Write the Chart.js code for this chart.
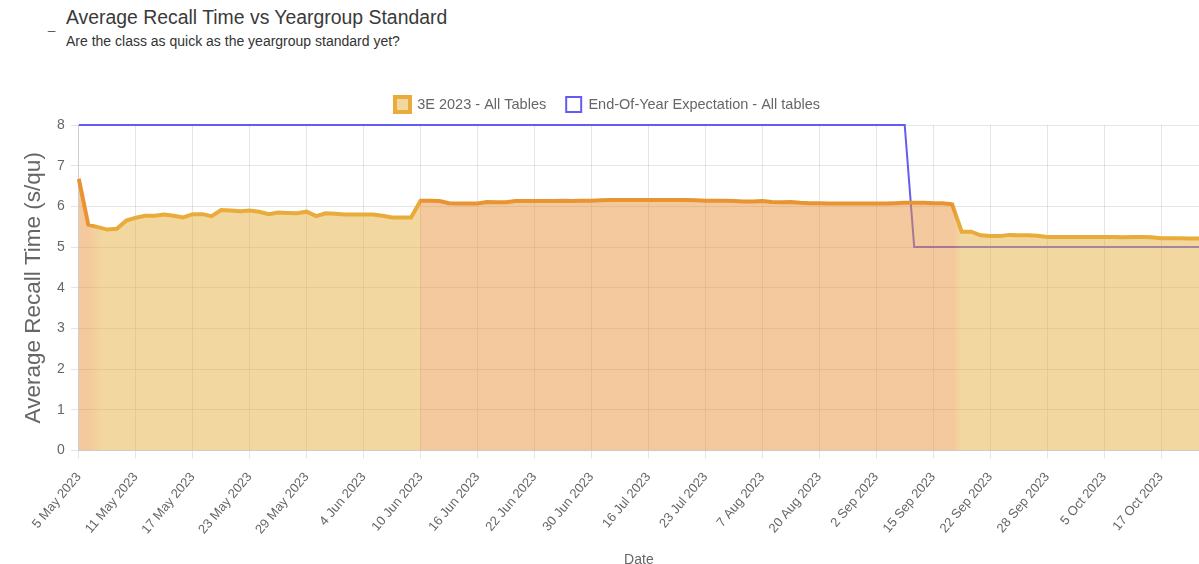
<!DOCTYPE html>
<html>
<head>
<meta charset="utf-8">
<script src="https://cdn.jsdelivr.net/npm/chart.js@4"></script>
<style>
  body { margin: 0; background: #fff; width: 1199px; height: 564px; overflow: hidden; position: relative; }
  .dash { position: absolute; left: 48px; top: 17px; font: 13px Arial, "Liberation Sans", sans-serif; color: #444; }
  .title { position: absolute; left: 66px; top: 6px; font: 19.4px Arial, "Liberation Sans", sans-serif; color: #3a3a3a; white-space: nowrap; }
  .subtitle { position: absolute; left: 66px; top: 33px; font: 14px Arial, "Liberation Sans", sans-serif; color: #333; white-space: nowrap; }
  .chart-box { position: absolute; left: 0; top: 77px; width: 1199px; height: 496px; }
</style>
</head>
<body>
<div class="dash">_</div>
<div class="title">Average Recall Time vs Yeargroup Standard</div>
<div class="subtitle">Are the class as quick as the yeargroup standard yet?</div>
<div class="chart-box"><canvas id="chart"></canvas></div>
<script>
const dateLabels = [
  '5 May 2023', '6 May 2023', '7 May 2023', '8 May 2023', '9 May 2023', '10 May 2023',
  '11 May 2023', '12 May 2023', '13 May 2023', '14 May 2023', '15 May 2023', '16 May 2023',
  '17 May 2023', '18 May 2023', '19 May 2023', '20 May 2023', '21 May 2023', '22 May 2023',
  '23 May 2023', '24 May 2023', '25 May 2023', '26 May 2023', '27 May 2023', '28 May 2023',
  '29 May 2023', '30 May 2023', '31 May 2023', '1 Jun 2023', '2 Jun 2023', '3 Jun 2023',
  '4 Jun 2023', '5 Jun 2023', '6 Jun 2023', '7 Jun 2023', '8 Jun 2023', '9 Jun 2023',
  '10 Jun 2023', '11 Jun 2023', '12 Jun 2023', '13 Jun 2023', '14 Jun 2023', '15 Jun 2023',
  '16 Jun 2023', '17 Jun 2023', '18 Jun 2023', '19 Jun 2023', '20 Jun 2023', '21 Jun 2023',
  '22 Jun 2023', '23 Jun 2023', '24 Jun 2023', '26 Jun 2023', '27 Jun 2023', '28 Jun 2023',
  '30 Jun 2023', '1 Jul 2023', '3 Jul 2023', '5 Jul 2023', '8 Jul 2023', '12 Jul 2023',
  '16 Jul 2023', '17 Jul 2023', '18 Jul 2023', '19 Jul 2023', '20 Jul 2023', '21 Jul 2023',
  '23 Jul 2023', '25 Jul 2023', '27 Jul 2023', '30 Jul 2023', '1 Aug 2023', '4 Aug 2023',
  '7 Aug 2023', '9 Aug 2023', '11 Aug 2023', '13 Aug 2023', '15 Aug 2023', '17 Aug 2023',
  '20 Aug 2023', '22 Aug 2023', '24 Aug 2023', '26 Aug 2023', '28 Aug 2023', '30 Aug 2023',
  '2 Sep 2023', '4 Sep 2023', '6 Sep 2023', '8 Sep 2023', '10 Sep 2023', '13 Sep 2023',
  '15 Sep 2023', '16 Sep 2023', '17 Sep 2023', '18 Sep 2023', '19 Sep 2023', '21 Sep 2023',
  '22 Sep 2023', '23 Sep 2023', '24 Sep 2023', '25 Sep 2023', '26 Sep 2023', '27 Sep 2023',
  '28 Sep 2023', '29 Sep 2023', '30 Sep 2023', '1 Oct 2023', '2 Oct 2023', '4 Oct 2023',
  '5 Oct 2023', '7 Oct 2023', '9 Oct 2023', '11 Oct 2023', '13 Oct 2023', '15 Oct 2023',
  '17 Oct 2023', '18 Oct 2023', '19 Oct 2023', '20 Oct 2023', '21 Oct 2023'
];

// 3E 2023 - All Tables (s/qu)
const classTimes = [
  6.68, 5.55, 5.49, 5.43, 5.45, 5.65, 5.72, 5.77, 5.77, 5.80,
  5.77, 5.73, 5.81, 5.81, 5.76, 5.91, 5.90, 5.88, 5.90, 5.87,
  5.81, 5.85, 5.84, 5.83, 5.87, 5.76, 5.83, 5.82, 5.80, 5.80,
  5.80, 5.80, 5.77, 5.73, 5.73, 5.73, 6.14, 6.14, 6.13, 6.08,
  6.07, 6.07, 6.07, 6.11, 6.10, 6.10, 6.13, 6.13, 6.13, 6.13,
  6.13, 6.14, 6.13, 6.14, 6.14, 6.15, 6.16, 6.16, 6.16, 6.16,
  6.16, 6.16, 6.16, 6.16, 6.16, 6.15, 6.14, 6.14, 6.14, 6.13,
  6.12, 6.12, 6.13, 6.11, 6.10, 6.11, 6.09, 6.08, 6.08, 6.07,
  6.07, 6.07, 6.07, 6.07, 6.07, 6.07, 6.08, 6.09, 6.09, 6.09,
  6.08, 6.08, 6.05, 5.38, 5.38, 5.29, 5.27, 5.27, 5.30, 5.29,
  5.29, 5.28, 5.25, 5.25, 5.25, 5.25, 5.25, 5.25, 5.25, 5.25,
  5.24, 5.25, 5.25, 5.24, 5.22, 5.22, 5.22, 5.21, 5.21
];

// End-Of-Year Expectation - All tables
const expectation = [
  8, 8, 8, 8, 8, 8, 8, 8, 8, 8, 8, 8, 8, 8, 8, 8, 8, 8, 8, 8,
  8, 8, 8, 8, 8, 8, 8, 8, 8, 8, 8, 8, 8, 8, 8, 8, 8, 8, 8, 8,
  8, 8, 8, 8, 8, 8, 8, 8, 8, 8, 8, 8, 8, 8, 8, 8, 8, 8, 8, 8,
  8, 8, 8, 8, 8, 8, 8, 8, 8, 8, 8, 8, 8, 8, 8, 8, 8, 8, 8, 8,
  8, 8, 8, 8, 8, 8, 8, 8, 5, 5, 5, 5, 5, 5, 5, 5, 5, 5, 5, 5,
  5, 5, 5, 5, 5, 5, 5, 5, 5, 5, 5, 5, 5, 5, 5, 5, 5, 5, 5
];

const yellowLine = 'rgb(233,172,58)';
const orangeLine = 'rgb(233,148,50)';
const yellowFill = 'rgba(229,177,65,0.5)';
const orangeFill = 'rgba(231,147,59,0.5)';

// colour bands along the x axis, given as category index positions
function bandGradient(context, stops, fallback) {
  const chart = context.chart;
  const area = chart.chartArea;
  const x = chart.scales.x;
  if (!area || !x) return fallback;
  const g = chart.ctx.createLinearGradient(area.left, 0, area.right, 0);
  const w = area.right - area.left;
  stops.forEach(([idx, col]) => {
    let off = (x.getPixelForValue(idx) - area.left) / w;
    off = Math.min(1, Math.max(0, off));
    g.addColorStop(off, col);
  });
  return g;
}

// a little extra room under the legend
const legendGap = {
  id: 'legendGap',
  beforeInit(chart) {
    const fit = chart.legend.fit;
    chart.legend.fit = function () {
      fit.bind(chart.legend)();
      this.height += 3;
    };
  }
};

Chart.defaults.font.family = 'Arial, "Liberation Sans", sans-serif';
Chart.defaults.color = '#666';

new Chart(document.getElementById('chart'), {
  type: 'line',
  data: {
    labels: dateLabels,
    datasets: [{
      label: '3E 2023 - All Tables',
      data: classTimes,
      borderWidth: 4,
      fill: 'origin',
      borderColor: ctx => bandGradient(ctx, [
        [0, orangeLine], [1, orangeLine], [2, yellowLine], [35.9, yellowLine],
        [36, orangeLine], [92, orangeLine], [92.6, yellowLine]
      ], yellowLine),
      backgroundColor: ctx => bandGradient(ctx, [
        [0, orangeFill], [0.9, orangeFill], [2.6, yellowFill], [35.95, yellowFill],
        [36, orangeFill], [92.1, orangeFill], [93, yellowFill]
      ], yellowFill),
      pointRadius: 0,
      tension: 0
    }, {
      label: 'End-Of-Year Expectation - All tables',
      data: expectation,
      borderWidth: 2,
      borderColor: 'rgb(100,92,242)',
      backgroundColor: 'rgba(255,255,255,0)',
      fill: false,
      clip: 4,
      pointRadius: 0,
      tension: 0
    }]
  },
  plugins: [legendGap],
  options: {
    responsive: true,
    maintainAspectRatio: false,
    animation: false,
    layout: { padding: { left: 16, right: 0, top: 0, bottom: 0 } },
    plugins: {
      legend: {
        position: 'top',
        labels: { boxWidth: 15, boxHeight: 15, padding: 20, font: { size: 14.5 } }
      },
      tooltip: { enabled: false }
    },
    scales: {
      x: {
        grid: { color: 'rgba(0,0,0,0.1)' },
        ticks: {
          autoSkip: false,
          minRotation: 50,
          maxRotation: 50,
          padding: 11,
          font: { size: 13 },
          callback: function (v, i) { return i % 6 === 0 ? this.getLabelForValue(v) : null; }
        },
        title: { display: true, text: 'Date', font: { size: 14 } }
      },
      y: {
        min: 0,
        max: 8,
        ticks: { stepSize: 1, padding: 6, font: { size: 14 } },
        grid: { color: 'rgba(0,0,0,0.1)' },
        title: { display: true, text: 'Average Recall Time (s/qu)', font: { size: 22.5 } }
      }
    }
  }
});
</script>
</body>
</html>
